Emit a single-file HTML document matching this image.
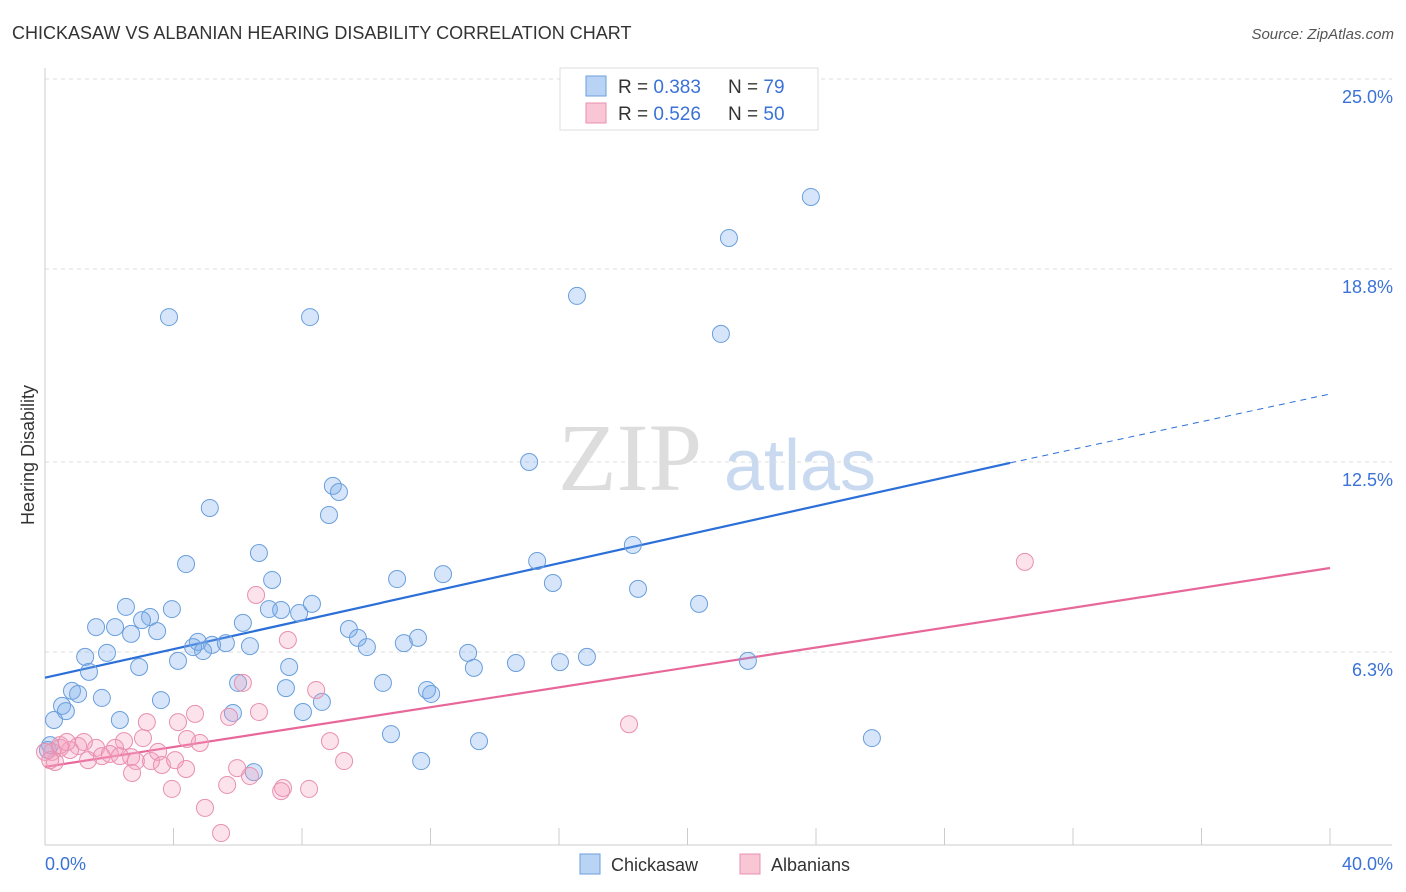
<!DOCTYPE html>
<html><head><meta charset="utf-8"><style>
body{margin:0;background:#fff;font-family:"Liberation Sans",sans-serif}
svg{display:block}
</style></head><body>
<svg id="chart" width="1406" height="892" xmlns="http://www.w3.org/2000/svg">
<text x="12" y="39" font-size="18" fill="#333">CHICKASAW VS ALBANIAN HEARING DISABILITY CORRELATION CHART</text>
<text x="1394" y="39" font-size="15" fill="#555" font-style="italic" text-anchor="end">Source: ZipAtlas.com</text>
<text x="630" y="490" font-size="96" fill="#ddd" font-family="Liberation Serif" text-anchor="middle">ZIP</text>
<text x="800" y="490" font-size="72" fill="#c8d9f0" text-anchor="middle">atlas</text>
<g id="grid"></g><g id="axes"></g><g id="lines"></g><g id="pts"></g>
<text x="34" y="455" font-size="18" fill="#333" text-anchor="middle" transform="rotate(-90 34 455)">Hearing Disability</text>
<text x="45" y="870" font-size="18" fill="#3a72d8">0.0%</text>
<text x="1393" y="870" font-size="18" fill="#3a72d8" text-anchor="end">40.0%</text>
<g>
<rect x="560" y="68" width="258" height="62" fill="#fff" stroke="#ddd"/>
<rect x="586" y="76" width="20" height="20" fill="#b9d3f5" stroke="#6a9fdc"/>
<rect x="586" y="103" width="20" height="20" fill="#f9c6d6" stroke="#e890b0"/>
<text x="618" y="93" font-size="19" fill="#333">R = <tspan fill="#3a72d8">0.383</tspan></text>
<text x="728" y="93" font-size="19" fill="#333">N = <tspan fill="#3a72d8">79</tspan></text>
<text x="618" y="120" font-size="19" fill="#333">R = <tspan fill="#3a72d8">0.526</tspan></text>
<text x="728" y="120" font-size="19" fill="#333">N = <tspan fill="#3a72d8">50</tspan></text>
</g>
<g>
<rect x="580" y="854" width="20" height="20" fill="#b9d3f5" stroke="#6a9fdc"/>
<text x="611" y="871" font-size="18" fill="#333">Chickasaw</text>
<rect x="740" y="854" width="20" height="20" fill="#f9c6d6" stroke="#e890b0"/>
<text x="771" y="871" font-size="18" fill="#333">Albanians</text>
</g>
</svg>
<script>
const yTicks=[25,18.8,12.5,6.3];
const yTickLabels=["25.0%","18.8%","12.5%","6.3%"];
const xTicks=[0,4,8,12,16,20,24,28,32,36,40];
const blueX=[3.86,8.25,16.56,21.29,23.84,21.04,15.07,5.13,8.96,9.15,8.84,6.66,4.39,15.32,18.30,7.07,10.96,12.39,15.81,18.46,20.36,2.52,3.95,3.27,3.02,6.97,7.35,7.91,8.31,6.16,1.59,2.18,2.68,3.49,9.46,9.74,10.02,11.17,11.61,4.76,5.20,5.63,4.61,4.92,6.38,1.93,1.25,4.14,2.93,1.37,7.60,13.17,13.35,14.66,16.03,16.87,21.88,6.01,7.50,10.52,11.89,12.02,0.84,1.03,1.77,3.61,8.62,0.53,0.65,5.85,8.03,0.28,2.33,10.77,13.51,25.74,11.71,6.50,0.16,0.09];
const blueY=[17.23,17.23,17.92,19.81,21.15,16.68,12.50,11.00,11.72,11.52,10.77,9.53,9.17,9.27,9.79,8.65,8.68,8.84,8.55,8.36,7.87,7.77,7.70,7.44,7.34,7.70,7.67,7.57,7.87,7.25,7.11,7.11,6.89,6.98,7.05,6.76,6.46,6.59,6.76,6.63,6.53,6.59,6.46,6.33,6.49,6.27,6.14,6.01,5.81,5.65,5.81,6.27,5.78,5.94,5.97,6.14,6.01,5.29,5.12,5.29,5.06,4.93,5.03,4.93,4.80,4.73,4.67,4.54,4.37,4.31,4.34,4.08,4.08,3.62,3.39,3.49,2.74,2.38,3.26,3.10];
const pinkX=[30.5,6.57,7.56,6.16,8.44,18.18,4.67,5.73,6.66,3.17,4.14,8.87,4.42,4.82,3.05,2.46,2.18,1.59,1.03,0.78,0.47,0.22,0.31,1.34,1.77,2.02,2.68,2.83,3.30,3.52,3.64,4.05,4.39,5.98,9.31,2.71,6.38,3.95,5.67,7.41,7.35,8.22,4.98,5.48,0.47,0,0.68,0.16,1.21,2.33];
const pinkY=[9.24,8.16,6.69,5.29,5.06,3.94,4.28,4.18,4.34,4.01,4.01,3.39,3.46,3.33,3.49,3.39,3.17,3.17,3.23,3.10,3.17,3.04,2.71,2.77,2.90,2.97,2.87,2.74,2.74,3.04,2.61,2.77,2.48,2.51,2.74,2.35,2.25,1.83,1.96,1.86,1.76,1.83,1.21,0.39,3.26,3.04,3.36,2.77,3.36,2.90];
const blueLine=[[0,5.46],[30.04,12.47],[40,14.72]];
const pinkLine=[[0,2.55],[40,9.04]];
const X=v=>45+v*32.125, Y=v=>845-v*30.64;
const NS="http://www.w3.org/2000/svg";
function mk(t,a,p){const e=document.createElementNS(NS,t);for(const k in a)e.setAttribute(k,a[k]);p.appendChild(e);return e;}
const grid=document.getElementById('grid'),axes=document.getElementById('axes'),lines=document.getElementById('lines'),pts=document.getElementById('pts');
yTicks.forEach((v,i)=>{
 const l=mk('line',{x1:45,x2:1392,y1:Y(v),y2:Y(v),stroke:'#ddd','stroke-dasharray':'4,4'},grid);
 
 
 const t=mk('text',{x:1393,y:Y(v)+24,'font-size':18,fill:'#3a72d8','text-anchor':'end'},grid);
 t.textContent=yTickLabels[i];
 
 
});
const ya=mk('line',{x1:45,x2:45,y1:68,y2:845,stroke:'#ccc'},axes);


const xa=mk('line',{x1:45,x2:1392,y1:845,y2:845,stroke:'#ccc'},axes);


xTicks.forEach(v=>{
 const t=mk('line',{x1:X(v),x2:X(v),y1:828,y2:845,stroke:'#ccc'},axes);
 
 
});
function pt(x,y,f,s){const c=mk('circle',{cx:X(x),cy:Y(y),r:8.5,fill:f,stroke:s,'stroke-width':1},pts);return c;}
blueX.forEach((x,i)=>{const c=pt(x,blueY[i],'rgba(120,170,235,0.3)','#6a9fdc');
 
 });
pinkX.forEach((x,i)=>{const c=pt(x,pinkY[i],'rgba(245,160,190,0.3)','#e890b0');
 
 });
const b1=mk('line',{x1:X(blueLine[0][0]),y1:Y(blueLine[0][1]),x2:X(blueLine[1][0]),y2:Y(blueLine[1][1]),stroke:'#2b6fd8','stroke-width':2.2},lines);


const b2=mk('line',{x1:X(blueLine[1][0]),y1:Y(blueLine[1][1]),x2:X(blueLine[2][0]),y2:Y(blueLine[2][1]),stroke:'#2b6fd8','stroke-width':1,'stroke-dasharray':'6,5'},lines);


const p1=mk('line',{x1:X(pinkLine[0][0]),y1:Y(pinkLine[0][1]),x2:X(pinkLine[1][0]),y2:Y(pinkLine[1][1]),stroke:'#e8679a','stroke-width':2.2},lines);


</script>
</body></html>
